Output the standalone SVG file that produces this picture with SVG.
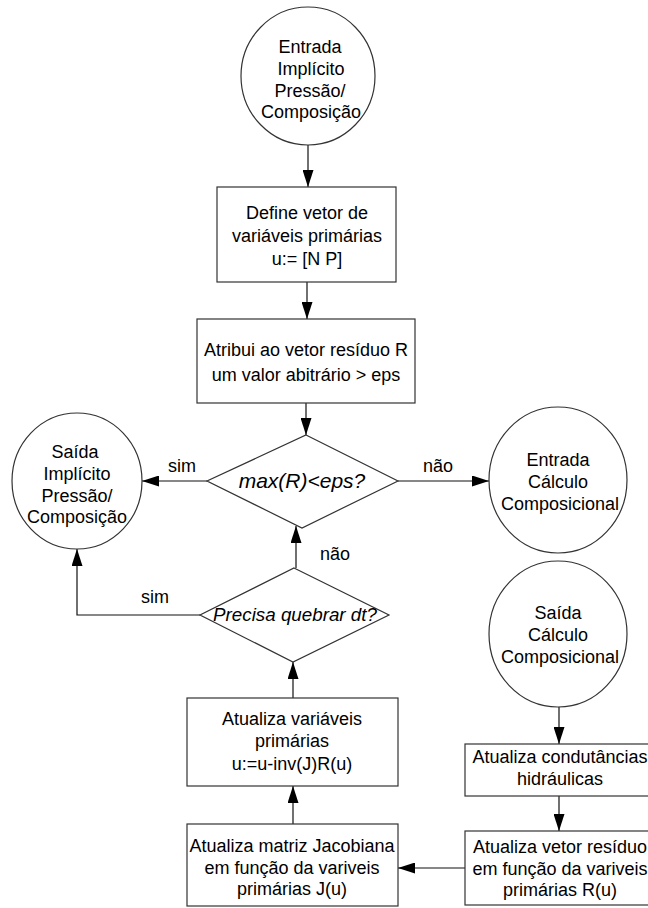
<svg xmlns="http://www.w3.org/2000/svg" width="648" height="908" viewBox="0 0 648 908">
<defs>
<style>
.shape{fill:#fff;stroke:#333;stroke-width:1.2}
.t{font-family:"Liberation Sans",Arial,sans-serif;font-size:18px;fill:#000;text-anchor:middle}
.i{font-style:italic}
.c{fill:none;stroke:#111;stroke-width:1.2}
</style>
<marker id="ah" markerUnits="userSpaceOnUse" viewBox="0 0 17 11" markerWidth="17" markerHeight="11" refX="17" refY="5.5" orient="auto">
<path d="M0,0 L17,5.5 L0,11 z" fill="#000"/>
</marker>
</defs>
<rect width="648" height="908" fill="#fff"/>

<g id="connectors">
<line class="c" x1="308" y1="145" x2="308" y2="187" marker-end="url(#ah)"/>
<line class="c" x1="307" y1="282" x2="307" y2="319" marker-end="url(#ah)"/>
<line class="c" x1="306" y1="403" x2="306" y2="435" marker-end="url(#ah)"/>
<line class="c" x1="207" y1="481" x2="142" y2="481" marker-end="url(#ah)"/>
<line class="c" x1="398" y1="481" x2="489" y2="481" marker-end="url(#ah)"/>
<line class="c" x1="296" y1="568" x2="296" y2="526" marker-end="url(#ah)"/>
<polyline class="c" points="200,615 77,615 77,549" marker-end="url(#ah)"/>
<line class="c" x1="293" y1="698" x2="293" y2="662" marker-end="url(#ah)"/>
<line class="c" x1="293" y1="824" x2="293" y2="786" marker-end="url(#ah)"/>
<line class="c" x1="559" y1="707" x2="559" y2="744" marker-end="url(#ah)"/>
<line class="c" x1="559" y1="796" x2="559" y2="831" marker-end="url(#ah)"/>
<line class="c" x1="465" y1="868" x2="398" y2="868" marker-end="url(#ah)"/>
<text class="t" x="182" y="472">sim</text>
<text class="t" x="438" y="472">não</text>
<text class="t" x="335" y="560">não</text>
<text class="t" x="155" y="603">sim</text>
</g>

<g id="n_entrada_implicito">
<ellipse class="shape" cx="308" cy="76" rx="67" ry="69"/>
<text class="t" x="310" y="53">Entrada</text>
<text class="t" x="311" y="75">Implícito</text>
<text class="t" x="310" y="97">Pressão/</text>
<text class="t" x="311" y="118">Composição</text>
</g>

<g id="n_define">
<rect class="shape" x="217" y="187" width="179" height="95"/>
<text class="t" x="307" y="219">Define vetor de</text>
<text class="t" x="307" y="242">variáveis primárias</text>
<text class="t" x="307" y="265">u:= [N P]</text>
</g>

<g id="n_atribui">
<rect class="shape" x="197" y="319" width="218" height="84"/>
<text class="t" x="306" y="356">Atribui ao vetor resíduo R</text>
<text class="t" x="306" y="381">um valor abitrário &gt; eps</text>
</g>

<g id="n_max">
<polygon class="shape" points="306,435 398,481 302,528 207,481"/>
<text class="t i" x="302" y="488" style="font-size:21px">max(R)&lt;eps?</text>
</g>

<g id="n_saida_implicito">
<ellipse class="shape" cx="77" cy="481" rx="65" ry="68"/>
<text class="t" x="75" y="458">Saída</text>
<text class="t" x="77" y="480">Implícito</text>
<text class="t" x="77" y="502">Pressão/</text>
<text class="t" x="77" y="523">Composição</text>
</g>

<g id="n_entrada_calculo">
<ellipse class="shape" cx="558" cy="480" rx="69" ry="73"/>
<text class="t" x="558" y="466">Entrada</text>
<text class="t" x="558" y="488">Cálculo</text>
<text class="t" x="560" y="510">Composicional</text>
</g>

<g id="n_precisa">
<polygon class="shape" points="294,568 389,615 293,662 200,615"/>
<text class="t i" x="295" y="621" style="font-size:18.8px">Precisa quebrar dt?</text>
</g>

<g id="n_saida_calculo">
<ellipse class="shape" cx="558" cy="634" rx="69" ry="73"/>
<text class="t" x="558" y="619">Saída</text>
<text class="t" x="558" y="641">Cálculo</text>
<text class="t" x="560" y="663">Composicional</text>
</g>

<g id="n_atualiza_var">
<rect class="shape" x="187" y="698" width="211" height="88"/>
<text class="t" x="292" y="725">Atualiza variáveis</text>
<text class="t" x="292" y="747">primárias</text>
<text class="t" x="292" y="770">u:=u-inv(J)R(u)</text>
</g>

<g id="n_condutancias">
<rect class="shape" x="465" y="744" width="190" height="52"/>
<text class="t" x="560" y="763">Atualiza condutâncias</text>
<text class="t" x="560" y="785">hidráulicas</text>
</g>

<g id="n_jacobiana">
<rect class="shape" x="187" y="824" width="211" height="82"/>
<text class="t" x="292" y="852">Atualiza matriz Jacobiana</text>
<text class="t" x="292" y="874">em função da variveis</text>
<text class="t" x="292" y="895">primárias J(u)</text>
</g>

<g id="n_residuo">
<rect class="shape" x="465" y="831" width="190" height="74"/>
<text class="t" x="560" y="853">Atualiza vetor resíduo</text>
<text class="t" x="560" y="875">em função da variveis</text>
<text class="t" x="560" y="896">primárias R(u)</text>
</g>
</svg>
